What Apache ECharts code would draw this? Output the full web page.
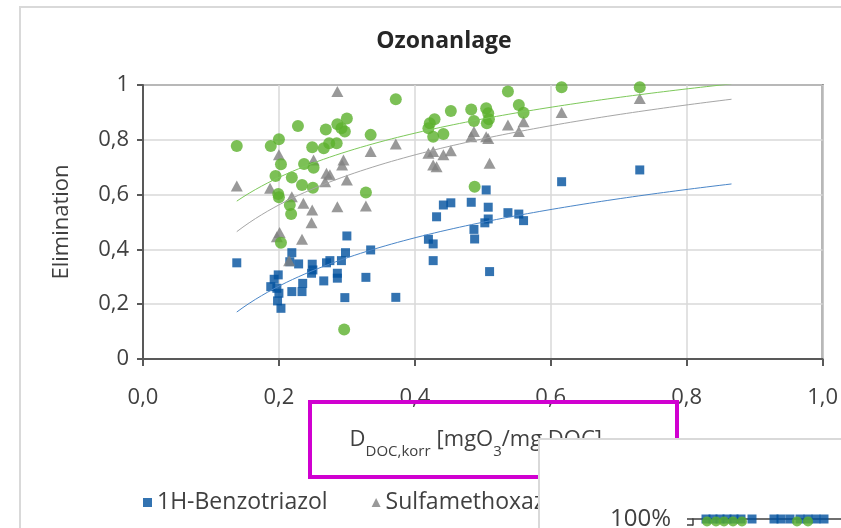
<!DOCTYPE html>
<html>
<head>
<meta charset="utf-8">
<script src="https://cdn.jsdelivr.net/npm/echarts@6/dist/echarts.min.js"></script>
<style>
html,body{margin:0;padding:0;background:#fff;}
#chart{width:841px;height:528px;}
</style>
</head>
<body>
<div id="chart"></div>
<script>
// ---- Data ----
const benzoX = [0.138,0.199,0.193,0.188,0.197,0.200,0.198,0.203,0.219,0.216,0.229,0.219,0.235,0.234,0.249,0.250,0.248,0.266,0.270,0.275,0.286,0.286,0.292,0.298,0.300,0.297,0.328,0.335,0.372,0.420,0.427,0.427,0.432,0.442,0.453,0.483,0.487,0.488,0.505,0.508,0.508,0.503,0.510,0.537,0.553,0.560,0.616,0.731];
const benzoY = [0.351,0.307,0.291,0.264,0.258,0.240,0.212,0.185,0.388,0.355,0.347,0.246,0.276,0.246,0.346,0.325,0.313,0.285,0.351,0.359,0.313,0.295,0.359,0.388,0.449,0.224,0.298,0.398,0.225,0.437,0.420,0.359,0.519,0.562,0.570,0.572,0.473,0.438,0.617,0.554,0.511,0.497,0.319,0.534,0.529,0.505,0.647,0.690];

const sulfaX = [0.138,0.200,0.187,0.219,0.251,0.295,0.293,0.270,0.275,0.268,0.300,0.236,0.249,0.248,0.286,0.328,0.201,0.197,0.234,0.215,0.286,0.335,0.372,0.420,0.427,0.442,0.453,0.427,0.432,0.483,0.487,0.505,0.508,0.510,0.537,0.553,0.560,0.616,0.731];
const sulfaY = [0.631,0.745,0.623,0.592,0.726,0.726,0.708,0.678,0.672,0.647,0.653,0.568,0.544,0.497,0.556,0.558,0.462,0.446,0.437,0.359,0.976,0.757,0.785,0.751,0.757,0.745,0.760,0.708,0.702,0.811,0.830,0.811,0.805,0.714,0.854,0.830,0.866,0.900,0.951];

const carbaX = [0.138,0.188,0.200,0.228,0.203,0.195,0.199,0.200,0.219,0.216,0.218,0.203,0.237,0.249,0.251,0.234,0.250,0.269,0.266,0.274,0.285,0.286,0.300,0.297,0.292,0.335,0.328,0.296,0.372,0.422,0.429,0.420,0.427,0.442,0.453,0.483,0.487,0.505,0.508,0.509,0.506,0.537,0.553,0.560,0.616,0.731,0.488];
const carbaY = [0.777,0.777,0.802,0.850,0.711,0.668,0.602,0.590,0.662,0.562,0.529,0.424,0.712,0.773,0.698,0.635,0.625,0.838,0.769,0.787,0.787,0.857,0.878,0.830,0.842,0.818,0.608,0.108,0.948,0.860,0.875,0.842,0.811,0.821,0.905,0.911,0.869,0.915,0.897,0.875,0.860,0.976,0.927,0.899,0.992,0.992,0.629];

const seriesNames = ['1H-Benzotriazol','Sulfamethoxazol','Carbamazepin'];
const xTickLabels = ['0,0','0,2','0,4','0,6','0,8','1,0'];
const yTickLabels = ['0','0,2','0,4','0,6','0,8','1'];
const trendRange = [0.138, 0.866];

// inset chart (partly visible, bottom right)
const insetBenzoX = [1.3,2.0,2.7,3.4,4.1,4.8,5.9,8.1,8.8,9.7,10.7,11.5,12.3,13.1];
const insetBenzoY = [1,1,1,1,1,1,1,1,1,1,1,1,1,1];
const insetCarbaX = [1.4,2.3,3.1,4.0,4.9,10.4,11.5];
const insetCarbaY = [0.988,0.988,0.988,0.988,0.988,0.988,0.988];
const insetTickLabel = '100%';

// ---- helpers ----
function zip(xs, ys){ return xs.map((x,i)=>[x, ys[i]]); }
function logFit(xs, ys){
  const n = xs.length; let sl=0, sy=0, sll=0, sly=0;
  for(let i=0;i<n;i++){ const l=Math.log(xs[i]); sl+=l; sy+=ys[i]; sll+=l*l; sly+=l*ys[i]; }
  const a = (n*sly - sl*sy)/(n*sll - sl*sl);
  const b = (sy - a*sl)/n;
  return {a,b};
}
function trend(xs, ys){
  const f = logFit(xs, ys); const pts=[];
  const N=80;
  for(let i=0;i<=N;i++){ const x = trendRange[0] + (trendRange[1]-trendRange[0])*i/N; pts.push([x, f.a*Math.log(x)+f.b]); }
  return pts;
}

const FONT = '"Open Sans", "Liberation Sans", sans-serif';
const TXT = '#404040';
const BLUE = '#00509e', GRAY = '#7f7f7f', GREEN = '#5bb02c';

const chart = echarts.init(document.getElementById('chart'), null, {renderer:'canvas'});
chart.setOption({
  animation:false,
  backgroundColor:'#ffffff',
  title:{
    text:'Ozonanlage', left:439, top:25, textAlign:'center',
    textStyle:{fontFamily:FONT, fontSize:23, fontWeight:'bold', color:'#262626'}
  },
  legend:{
    left:138, top:486, itemWidth:9, itemHeight:9, itemGap:44,
    textStyle:{fontFamily:FONT, fontSize:23, color:TXT},
    data:[{name:seriesNames[0], icon:'rect'},{name:seriesNames[1], icon:'triangle'},{name:seriesNames[2], icon:'circle'}]
  },
  grid:[
    {left:143, top:85, width:680, height:274, show:true, borderColor:'#595959', borderWidth:2, backgroundColor:'transparent'},
    {left:693, top:519, width:148, height:9, show:false}
  ],
  xAxis:[
    {type:'value', gridIndex:0, min:0, max:1, interval:0.2,
     axisLine:{show:true, onZero:false, lineStyle:{color:'#595959', width:2}},
     axisTick:{show:true, length:7, lineStyle:{color:'#595959', width:2}},
     axisLabel:{fontFamily:FONT, fontSize:22, color:TXT, margin:28,
       formatter:(v)=>xTickLabels[Math.round(v/0.2)]},
     splitLine:{show:true, lineStyle:{color:'#d9d9d9', width:1.5}},
     name:'{m|D}{s|DOC,korr}{m|[mgO}{t|3}{m|/mg DOC]}', nameLocation:'middle', nameGap:70,
     nameTextStyle:{padding:[0,14,0,0], rich:{
       m:{fontFamily:FONT, fontSize:22, color:TXT},
       s:{fontFamily:FONT, fontSize:15, color:TXT, verticalAlign:'bottom', padding:[0,6,-8,0]},
       t:{fontFamily:FONT, fontSize:15, color:TXT, verticalAlign:'bottom', padding:[0,0,-8,0]}
     }}
    },
    {type:'value', gridIndex:1, min:0, max:14.8, position:'top', z:20,
     axisLine:{show:true, onZero:false, lineStyle:{color:'#404040', width:1.5}},
     axisTick:{show:false}, axisLabel:{show:false}, splitLine:{show:false}}
  ],
  yAxis:[
    {type:'value', gridIndex:0, min:0, max:1, interval:0.2,
     axisLine:{show:true, onZero:false, lineStyle:{color:'#595959', width:2}},
     axisTick:{show:true, length:6, lineStyle:{color:'#595959', width:2}},
     axisLabel:{fontFamily:FONT, fontSize:22, color:TXT, margin:14,
       formatter:(v)=>yTickLabels[Math.round(v/0.2)]},
     splitLine:{show:true, lineStyle:{color:'#d9d9d9', width:1.5}},
     name:'Elimination', nameLocation:'middle', nameGap:70, nameRotate:90,
     nameTextStyle:{fontFamily:FONT, fontSize:22, color:TXT}
    },
    {type:'value', gridIndex:1, min:0.97, max:1, interval:0.03, z:20,
     axisLine:{show:true, onZero:false, lineStyle:{color:'#404040', width:1.5}},
     axisTick:{show:true, length:6, lineStyle:{color:'#404040', width:1.5}},
     axisLabel:{fontFamily:FONT, fontSize:24, color:TXT, margin:22,
       formatter:(v)=> v > 0.995 ? insetTickLabel : ''},
     splitLine:{show:false}
    }
  ],
  graphic:[
    {type:'rect', shape:{x:20, y:7, width:900, height:600}, style:{fill:null, stroke:'#d9d9d9', lineWidth:2}, z:-1, silent:true},
    {type:'rect', shape:{x:310, y:402, width:367, height:75}, style:{fill:null, stroke:'#d000d0', lineWidth:4}, z:8, silent:true},
    {type:'rect', shape:{x:539, y:439, width:400, height:200}, style:{fill:'#ffffff', stroke:'#d9d9d9', lineWidth:2}, z:10, silent:true}
  ],
  series:[
    {name:seriesNames[0], type:'scatter', xAxisIndex:0, yAxisIndex:0, symbol:'rect', symbolSize:9,
     itemStyle:{color:BLUE}, data:zip(benzoX, benzoY), z:3},
    {name:seriesNames[1], type:'scatter', xAxisIndex:0, yAxisIndex:0, symbol:'triangle', symbolSize:[12,11],
     itemStyle:{color:GRAY}, data:zip(sulfaX, sulfaY), z:4},
    {name:seriesNames[2], type:'scatter', xAxisIndex:0, yAxisIndex:0, symbol:'circle', symbolSize:12,
     itemStyle:{color:GREEN}, data:zip(carbaX, carbaY), z:5},
    {name:'trend0', type:'line', xAxisIndex:0, yAxisIndex:0, showSymbol:false, silent:true, smooth:false,
     lineStyle:{color:'#4a86c8', width:1}, data:trend(benzoX, benzoY), z:6},
    {name:'trend1', type:'line', xAxisIndex:0, yAxisIndex:0, showSymbol:false, silent:true,
     lineStyle:{color:'#a6a6a6', width:1}, data:trend(sulfaX, sulfaY), z:6},
    {name:'trend2', type:'line', xAxisIndex:0, yAxisIndex:0, showSymbol:false, silent:true,
     lineStyle:{color:'#7dc85a', width:1}, data:trend(carbaX, carbaY), z:6},
    {name:'inset0', type:'scatter', xAxisIndex:1, yAxisIndex:1, symbol:'rect', symbolSize:9, clip:false,
     itemStyle:{color:BLUE}, data:zip(insetBenzoX, insetBenzoY), z:21},
    {name:'inset2', type:'scatter', xAxisIndex:1, yAxisIndex:1, symbol:'circle', symbolSize:10, clip:false,
     itemStyle:{color:GREEN}, data:zip(insetCarbaX, insetCarbaY), z:22}
  ]
});
</script>
</body>
</html>
